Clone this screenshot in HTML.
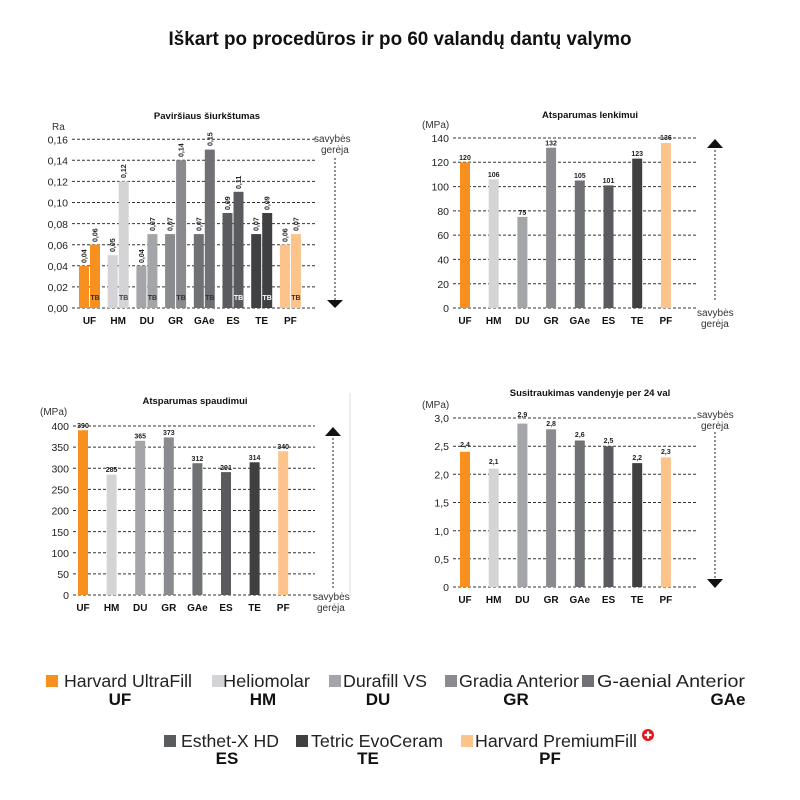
<!DOCTYPE html>
<html><head><meta charset="utf-8"><style>
body{margin:0;background:#fff}
svg{display:block}
text{font-family:"Liberation Sans",Arial,sans-serif}
.g{stroke:#333;stroke-width:1;stroke-dasharray:3,2}
.y{font-size:10.5px;fill:#222;text-anchor:end}
.c{font-size:10px;font-weight:bold;fill:#111;text-anchor:middle}
.v{font-size:7px;font-weight:bold;fill:#222;text-anchor:middle}
.t{font-size:9.5px;font-weight:bold;fill:#111;text-anchor:middle}
.s{font-size:10px;fill:#333}
.a{stroke:#555;stroke-width:1.3;stroke-dasharray:2,2}
.l{font-size:17.5px;fill:#222}
.b{font-size:17px;font-weight:bold;fill:#111;text-anchor:middle}
</style></head><body>
<svg width="800" height="800" viewBox="0 0 800 800" xmlns="http://www.w3.org/2000/svg">
<rect width="800" height="800" fill="#fff"/>
<text x="400" y="45" text-anchor="middle" font-size="19" font-weight="bold" fill="#111" textLength="463" lengthAdjust="spacingAndGlyphs">Iškart po procedūros ir po 60 valandų dantų valymo</text>

<!-- Chart 1 -->
<text class="t" x="207" y="119">Paviršiaus šiurkštumas</text>
<text class="s" x="52" y="130" font-size="10.5">Ra</text>
<g>
<line class="g" x1="72" x2="317" y1="308" y2="308"/><line class="g" x1="72" x2="317" y1="286.9" y2="286.9"/><line class="g" x1="72" x2="317" y1="265.8" y2="265.8"/><line class="g" x1="72" x2="317" y1="244.7" y2="244.7"/><line class="g" x1="72" x2="317" y1="223.6" y2="223.6"/><line class="g" x1="72" x2="317" y1="202.5" y2="202.5"/><line class="g" x1="72" x2="317" y1="181.4" y2="181.4"/><line class="g" x1="72" x2="317" y1="160.3" y2="160.3"/><line class="g" x1="72" x2="317" y1="139.2" y2="139.2"/>
</g>
<text class="y" x="68" y="312">0,00</text><text class="y" x="68" y="291">0,02</text><text class="y" x="68" y="270">0,04</text><text class="y" x="68" y="249">0,06</text><text class="y" x="68" y="228">0,08</text><text class="y" x="68" y="206.5">0,10</text><text class="y" x="68" y="185.5">0,12</text><text class="y" x="68" y="164.5">0,14</text><text class="y" x="68" y="143.5">0,16</text>
<rect x="79" y="265.8" width="10" height="42.2" fill="#f7901e"/><rect x="90" y="244.6" width="10" height="63.4" fill="#f7901e"/>
<rect x="107.7" y="255.2" width="10" height="52.8" fill="#d4d4d6"/><rect x="118.7" y="181.3" width="10" height="126.7" fill="#d4d4d6"/>
<rect x="136.4" y="265.8" width="10" height="42.2" fill="#a4a5a8"/><rect x="147.4" y="234.1" width="10" height="73.9" fill="#a4a5a8"/>
<rect x="165.1" y="234.1" width="10" height="73.9" fill="#8a8b8e"/><rect x="176.1" y="160.2" width="10" height="147.8" fill="#8a8b8e"/>
<rect x="193.8" y="234.1" width="10" height="73.9" fill="#707174"/><rect x="204.8" y="149.6" width="10" height="158.4" fill="#707174"/>
<rect x="222.5" y="213" width="10" height="95" fill="#5a5b5e"/><rect x="233.5" y="191.8" width="10" height="116.2" fill="#5a5b5e"/>
<rect x="251.2" y="234.1" width="10" height="73.9" fill="#3f4042"/><rect x="262.2" y="213" width="10" height="95" fill="#3f4042"/>
<rect x="279.9" y="244.6" width="10" height="63.4" fill="#fcc48a"/><rect x="290.9" y="234.1" width="10" height="73.9" fill="#fcc48a"/>
<g class="v" style="text-anchor:start">
<text transform="translate(86.5,263) rotate(-90)">0,04</text><text transform="translate(97.5,242) rotate(-90)">0,06</text>
<text transform="translate(115.2,252) rotate(-90)">0,05</text><text transform="translate(126.2,178) rotate(-90)">0,12</text>
<text transform="translate(143.9,263) rotate(-90)">0,04</text><text transform="translate(154.9,231) rotate(-90)">0,07</text>
<text transform="translate(172.6,231) rotate(-90)">0,07</text><text transform="translate(183.6,157) rotate(-90)">0,14</text>
<text transform="translate(201.3,231) rotate(-90)">0,07</text><text transform="translate(212.3,146) rotate(-90)">0,15</text>
<text transform="translate(230,210) rotate(-90)">0,09</text><text transform="translate(241,189) rotate(-90)">0,11</text>
<text transform="translate(258.7,231) rotate(-90)">0,07</text><text transform="translate(269.7,210) rotate(-90)">0,09</text>
<text transform="translate(287.4,242) rotate(-90)">0,06</text><text transform="translate(298.4,231) rotate(-90)">0,07</text>
</g>
<g class="v" font-size="6.5">
<text x="95" y="300" fill="#333">TB</text><text x="123.7" y="300" fill="#444">TB</text><text x="152.4" y="300" fill="#333">TB</text><text x="181.1" y="300" fill="#333">TB</text><text x="209.8" y="300" fill="#333">TB</text><text x="238.5" y="300" fill="#fff">TB</text><text x="267.2" y="300" fill="#fff">TB</text><text x="295.9" y="300" fill="#333">TB</text>
</g>
<g class="c"><text x="89.5" y="324">UF</text><text x="118.2" y="324">HM</text><text x="146.9" y="324">DU</text><text x="175.6" y="324">GR</text><text x="204.3" y="324">GAe</text><text x="233" y="324">ES</text><text x="261.7" y="324">TE</text><text x="290.4" y="324">PF</text></g>
<text class="s" x="314" y="142">savybės</text><text class="s" x="321" y="153">gerėja</text>
<line class="a" x1="335" y1="158" x2="335" y2="300"/><polygon points="327,300 343,300 335,308" fill="#111"/>

<!-- Chart 2 -->
<text class="t" x="590" y="118">Atsparumas lenkimui</text>
<text class="s" x="422" y="128" font-size="10.5">(MPa)</text>
<g>
<line class="g" x1="453" x2="698" y1="308" y2="308"/><line class="g" x1="453" x2="698" y1="283.7" y2="283.7"/><line class="g" x1="453" x2="698" y1="259.4" y2="259.4"/><line class="g" x1="453" x2="698" y1="235.1" y2="235.1"/><line class="g" x1="453" x2="698" y1="210.9" y2="210.9"/><line class="g" x1="453" x2="698" y1="186.6" y2="186.6"/><line class="g" x1="453" x2="698" y1="162.3" y2="162.3"/><line class="g" x1="453" x2="698" y1="138" y2="138"/>
</g>
<text class="y" x="449" y="312">0</text><text class="y" x="449" y="288">20</text><text class="y" x="449" y="263.5">40</text><text class="y" x="449" y="239">60</text><text class="y" x="449" y="215">80</text><text class="y" x="449" y="190.5">100</text><text class="y" x="449" y="166">120</text><text class="y" x="449" y="142">140</text>
<rect x="460" y="162.3" width="10" height="145.7" fill="#f7901e"/><rect x="488.7" y="179.3" width="10" height="128.7" fill="#d4d4d6"/><rect x="517.4" y="216.9" width="10" height="91.1" fill="#a4a5a8"/><rect x="546.1" y="147.7" width="10" height="160.3" fill="#8a8b8e"/><rect x="574.8" y="180.5" width="10" height="127.5" fill="#707174"/><rect x="603.5" y="185.4" width="10" height="122.6" fill="#5a5b5e"/><rect x="632.2" y="158.6" width="10" height="149.4" fill="#3f4042"/><rect x="660.9" y="142.9" width="10" height="165.1" fill="#fcc48a"/>
<g class="v"><text x="465" y="160">120</text><text x="493.7" y="177">106</text><text x="522.4" y="215">75</text><text x="551.1" y="145.5">132</text><text x="579.8" y="178">105</text><text x="608.5" y="183">101</text><text x="637.2" y="156">123</text><text x="665.9" y="140">136</text></g>
<g class="c"><text x="465" y="324">UF</text><text x="493.7" y="324">HM</text><text x="522.4" y="324">DU</text><text x="551.1" y="324">GR</text><text x="579.8" y="324">GAe</text><text x="608.5" y="324">ES</text><text x="637.2" y="324">TE</text><text x="665.9" y="324">PF</text></g>
<polygon points="707,148 723,148 715,139" fill="#111"/><line class="a" x1="715" y1="150" x2="715" y2="300"/>
<text class="s" x="697" y="316">savybės</text><text class="s" x="701" y="327">gerėja</text>

<!-- Chart 3 -->
<text class="t" x="195" y="404">Atsparumas spaudimui</text>
<text class="s" x="40" y="415" font-size="10.5">(MPa)</text>
<line x1="350" y1="393" x2="350" y2="600" stroke="#ddd" stroke-width="1"/>
<g>
<line class="g" x1="73" x2="315" y1="595" y2="595"/><line class="g" x1="73" x2="315" y1="573.9" y2="573.9"/><line class="g" x1="73" x2="315" y1="552.75" y2="552.75"/><line class="g" x1="73" x2="315" y1="531.6" y2="531.6"/><line class="g" x1="73" x2="315" y1="510.5" y2="510.5"/><line class="g" x1="73" x2="315" y1="489.4" y2="489.4"/><line class="g" x1="73" x2="315" y1="468.25" y2="468.25"/><line class="g" x1="73" x2="315" y1="447.1" y2="447.1"/><line class="g" x1="73" x2="315" y1="426" y2="426"/>
</g>
<text class="y" x="69" y="599">0</text><text class="y" x="69" y="578">50</text><text class="y" x="69" y="557">100</text><text class="y" x="69" y="536">150</text><text class="y" x="69" y="514.5">200</text><text class="y" x="69" y="493.5">250</text><text class="y" x="69" y="472.5">300</text><text class="y" x="69" y="451">350</text><text class="y" x="69" y="430">400</text>
<rect x="78" y="430.2" width="10" height="164.8" fill="#f7901e"/><rect x="106.6" y="474.6" width="10" height="120.4" fill="#d4d4d6"/><rect x="135.2" y="440.8" width="10" height="154.2" fill="#a4a5a8"/><rect x="163.8" y="437.4" width="10" height="157.6" fill="#8a8b8e"/><rect x="192.4" y="463.2" width="10" height="131.8" fill="#707174"/><rect x="221" y="472.1" width="10" height="122.9" fill="#5a5b5e"/><rect x="249.6" y="462.3" width="10" height="132.7" fill="#3f4042"/><rect x="278.2" y="451.3" width="10" height="143.7" fill="#fcc48a"/>
<g class="v"><text x="83" y="428">390</text><text x="111.6" y="472">285</text><text x="140.2" y="438.5">365</text><text x="168.8" y="435">373</text><text x="197.4" y="461">312</text><text x="226" y="470">291</text><text x="254.6" y="460">314</text><text x="283.2" y="449">340</text></g>
<g class="c"><text x="83" y="611">UF</text><text x="111.6" y="611">HM</text><text x="140.2" y="611">DU</text><text x="168.8" y="611">GR</text><text x="197.4" y="611">GAe</text><text x="226" y="611">ES</text><text x="254.6" y="611">TE</text><text x="283.2" y="611">PF</text></g>
<polygon points="325,436 341,436 333,427" fill="#111"/><line class="a" x1="333" y1="438" x2="333" y2="590"/>
<text class="s" x="313" y="600">savybės</text><text class="s" x="317" y="611">gerėja</text>

<!-- Chart 4 -->
<text class="t" x="590" y="396">Susitraukimas vandenyje per 24 val</text>
<text class="s" x="422" y="408" font-size="10.5">(MPa)</text>
<g>
<line class="g" x1="453" x2="698" y1="587" y2="587"/><line class="g" x1="453" x2="698" y1="558.8" y2="558.8"/><line class="g" x1="453" x2="698" y1="530.7" y2="530.7"/><line class="g" x1="453" x2="698" y1="502.5" y2="502.5"/><line class="g" x1="453" x2="698" y1="474.3" y2="474.3"/><line class="g" x1="453" x2="698" y1="446.2" y2="446.2"/><line class="g" x1="453" x2="698" y1="418" y2="418"/>
</g>
<text class="y" x="449" y="591">0</text><text class="y" x="449" y="563">0,5</text><text class="y" x="449" y="535">1,0</text><text class="y" x="449" y="506.5">1,5</text><text class="y" x="449" y="478.5">2,0</text><text class="y" x="449" y="450">2,5</text><text class="y" x="449" y="422">3,0</text>
<rect x="460" y="451.8" width="10" height="135.2" fill="#f7901e"/><rect x="488.7" y="468.7" width="10" height="118.3" fill="#d4d4d6"/><rect x="517.4" y="423.6" width="10" height="163.4" fill="#a4a5a8"/><rect x="546.1" y="429.3" width="10" height="157.7" fill="#8a8b8e"/><rect x="574.8" y="440.5" width="10" height="146.5" fill="#707174"/><rect x="603.5" y="446.2" width="10" height="140.8" fill="#5a5b5e"/><rect x="632.2" y="463.1" width="10" height="123.9" fill="#3f4042"/><rect x="660.9" y="457.4" width="10" height="129.6" fill="#fcc48a"/>
<g class="v"><text x="465" y="447">2,4</text><text x="493.7" y="464">2,1</text><text x="522.4" y="417">2,9</text><text x="551.1" y="426">2,8</text><text x="579.8" y="437">2,6</text><text x="608.5" y="443">2,5</text><text x="637.2" y="460">2,2</text><text x="665.9" y="454">2,3</text></g>
<g class="c"><text x="465" y="603">UF</text><text x="493.7" y="603">HM</text><text x="522.4" y="603">DU</text><text x="551.1" y="603">GR</text><text x="579.8" y="603">GAe</text><text x="608.5" y="603">ES</text><text x="637.2" y="603">TE</text><text x="665.9" y="603">PF</text></g>
<text class="s" x="697" y="418">savybės</text><text class="s" x="701" y="429">gerėja</text>
<line class="a" x1="715" y1="432" x2="715" y2="579"/><polygon points="707,579 723,579 715,588" fill="#111"/>

<!-- Legend -->
<rect x="46" y="675" width="12" height="12" fill="#f7901e"/><text class="l" x="64" y="687" textLength="128" lengthAdjust="spacingAndGlyphs">Harvard UltraFill</text><text class="b" x="120" y="705">UF</text>
<rect x="212" y="675" width="12" height="12" fill="#d4d4d6"/><text class="l" x="223" y="687" textLength="87" lengthAdjust="spacingAndGlyphs">Heliomolar</text><text class="b" x="263" y="705">HM</text>
<rect x="329" y="675" width="12" height="12" fill="#a4a5a8"/><text class="l" x="343" y="687" textLength="84" lengthAdjust="spacingAndGlyphs">Durafill VS</text><text class="b" x="378" y="705">DU</text>
<rect x="445" y="675" width="12" height="12" fill="#8a8b8e"/><text class="l" x="459" y="687" textLength="120" lengthAdjust="spacingAndGlyphs">Gradia Anterior</text><text class="b" x="516" y="705">GR</text>
<rect x="582" y="675" width="12" height="12" fill="#707174"/><text class="l" x="597" y="687" textLength="148" lengthAdjust="spacingAndGlyphs">G-aenial Anterior</text><text class="b" x="728" y="705">GAe</text>
<rect x="164" y="735" width="12" height="12" fill="#5a5b5e"/><text class="l" x="181" y="747" textLength="98" lengthAdjust="spacingAndGlyphs">Esthet-X HD</text><text class="b" x="227" y="764">ES</text>
<rect x="296" y="735" width="12" height="12" fill="#3f4042"/><text class="l" x="311" y="747" textLength="132" lengthAdjust="spacingAndGlyphs">Tetric EvoCeram</text><text class="b" x="368" y="764">TE</text>
<rect x="461" y="735" width="12" height="12" fill="#fcc48a"/><text class="l" x="475" y="747" textLength="162" lengthAdjust="spacingAndGlyphs">Harvard PremiumFill</text><text class="b" x="550" y="764">PF</text>
<circle cx="648" cy="735" r="6" fill="#e3161b"/><rect x="646.9" y="731.5" width="2.2" height="7" fill="#fff"/><rect x="644.5" y="733.9" width="7" height="2.2" fill="#fff"/>
</svg>
</body></html>
